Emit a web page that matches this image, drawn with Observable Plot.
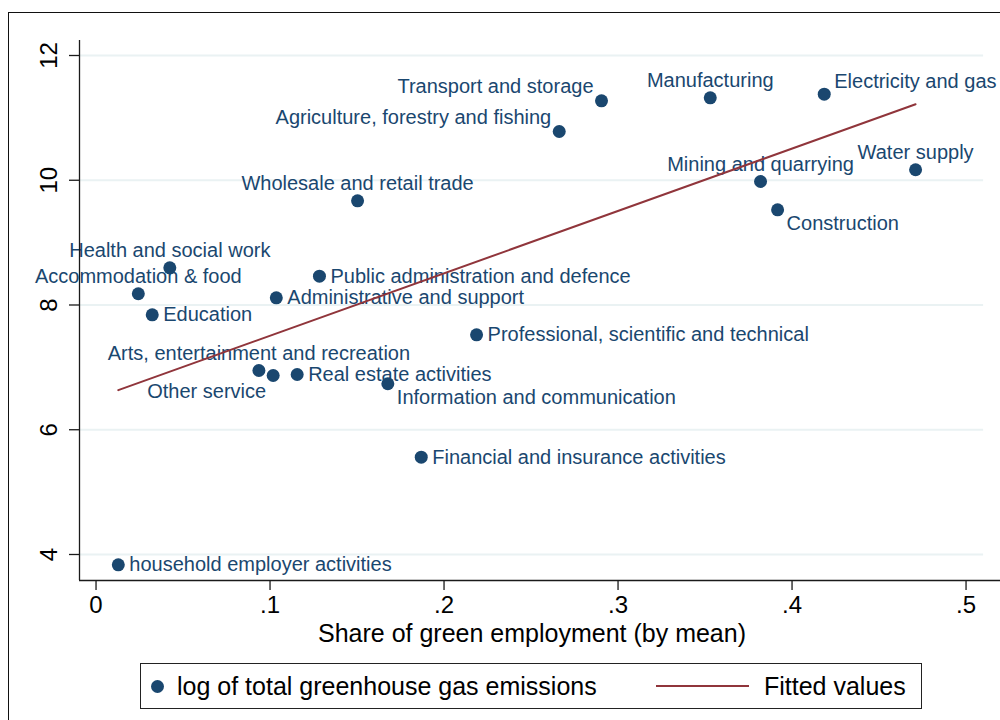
<!DOCTYPE html>
<html>
<head>
<meta charset="utf-8">
<script src="https://cdn.jsdelivr.net/npm/d3@7"></script>
<script src="https://cdn.jsdelivr.net/npm/@observablehq/plot@0.6"></script>
<style>
  html, body { margin: 0; padding: 0; background: #fff; overflow: hidden; }
  body { font-family: "Liberation Sans", Arial, sans-serif; }
  #page { position: relative; width: 1000px; height: 720px; overflow: hidden; }
  #outer { position: absolute; left: 8px; top: 12px; width: 1200px; height: 900px;
           border-left: 1.5px solid #111; border-top: 1.5px solid #111; pointer-events: none; }
  #chart svg { display: block; }
  #legend { position: relative; margin-left: 140px; margin-top: 13px; width: 782px; height: 46px;
            box-sizing: border-box; border: 1px solid #222; font-size: 25px; color: #000; }
  #legend .dot { position: absolute; left: 10px; top: 16px; width: 13px; height: 13px;
                 border-radius: 50%; background: #1a476f; }
  #legend .line { position: absolute; left: 515px; top: 21px; width: 93px; height: 2px; background: #90353b; }
  #legend .txt { position: absolute; top: 0; line-height: 44px; white-space: nowrap; }
</style>
</head>
<body>
<div id="page">
  <div id="chart"></div>
  <div id="legend">
    <span class="dot"></span>
    <span class="txt" style="left:36px">log of total greenhouse gas emissions</span>
    <span class="line"></span>
    <span class="txt" style="left:623px">Fitted values</span>
  </div>
  <div id="outer"></div>
</div>
<script>
// Industry sectors: share of green employment vs. log of total GHG emissions
const sectors = [
  "household employer activities",
  "Accommodation & food",
  "Health and social work",
  "Education",
  "Wholesale and retail trade",
  "Public administration and defence",
  "Administrative and support",
  "Arts, entertainment and recreation",
  "Other service",
  "Real estate activities",
  "Information and communication",
  "Professional, scientific and technical",
  "Financial and insurance activities",
  "Transport and storage",
  "Agriculture, forestry and fishing",
  "Manufacturing",
  "Electricity and gas",
  "Mining and quarrying",
  "Construction",
  "Water supply"
];
const greenShare = [
  0.0128, 0.0243, 0.0424, 0.0323, 0.1503, 0.1284, 0.1036, 0.0936, 0.1018, 0.1156,
  0.1677, 0.2187, 0.1869, 0.2905, 0.2662, 0.3530, 0.4185, 0.3819, 0.3917, 0.4710
];
const logEmissions = [
  3.835, 8.180, 8.596, 7.843, 9.670, 8.462, 8.115, 6.950, 6.870, 6.886,
  6.737, 7.522, 5.560, 11.274, 10.782, 11.322, 11.380, 9.980, 9.526, 10.168
];
// marker-label position, as a clock face direction around each point
const labelClock = [3, 12, 12, 3, 12, 3, 3, 12, 7, 3, 5, 3, 3, 11, 11, 12, 1, 12, 5, 12];

const xTicks = [0, 0.1, 0.2, 0.3, 0.4, 0.5];
const yTicks = [4, 6, 8, 10, 12];
const xTitle = "Share of green employment (by mean)";

const navy = "#1a476f";
const maroon = "#90353b";
const gridColor = "#eaf2f3";
const axisColor = "#1a1a1a";

const xDomain = [-0.0095, 0.5198];
const yDomain = [3.583, 12.2405];
const gridEnd = 0.5101;

const rows = sectors.map((name, i) => ({
  name, share: greenShare[i], ghg: logEmissions[i], clock: labelClock[i]
}));

const placements = {
  12: {dx: 0, dy: -17, textAnchor: "middle"},
  3:  {dx: 11, dy: 0, textAnchor: "start"},
  11: {dx: -8, dy: -14, textAnchor: "end"},
  1:  {dx: 10, dy: -13, textAnchor: "start"},
  5:  {dx: 9, dy: 14, textAnchor: "start"},
  7:  {dx: -7, dy: 16, textAnchor: "end"}
};

const labelMarks = Object.entries(placements).map(([clock, o]) =>
  Plot.text(rows.filter(d => d.clock === +clock), {
    x: "share", y: "ghg", text: "name",
    dx: o.dx, dy: o.dy, textAnchor: o.textAnchor, lineAnchor: "middle",
    fill: navy, fontSize: 20
  })
);

const fmtX = d => d === 0 ? "0" : d3.format(".1f")(d).replace(/^0/, "");

const chart = Plot.plot({
  width: 1000,
  height: 650,
  marginLeft: 79,
  marginRight: 0,
  marginTop: 40,
  marginBottom: 70,
  style: {fontFamily: '"Liberation Sans", Arial, sans-serif', background: "#fff", color: "#000", overflow: "visible"},
  x: {domain: xDomain, axis: null},
  y: {domain: yDomain, axis: null},
  marks: [
    Plot.ruleY(yTicks, {x1: xDomain[0], x2: gridEnd, stroke: gridColor, strokeWidth: 1.8}),
    Plot.dot(rows, {x: "share", y: "ghg", r: 6.5, fill: navy, stroke: null}),
    ...labelMarks,
    Plot.linearRegressionY(rows, {x: "share", y: "ghg", stroke: maroon, strokeWidth: 2, ci: 0}),
    Plot.ruleX([xDomain[0]], {stroke: axisColor, strokeWidth: 1.3}),
    Plot.ruleY([yDomain[0]], {stroke: axisColor, strokeWidth: 1.3}),
    Plot.axisY({ticks: yTicks, tickSize: 10, tickPadding: 13, tickRotate: -90, fontSize: 24,
                stroke: axisColor, strokeWidth: 1.3, label: null, tickFormat: d => String(d)}),
    Plot.axisX({ticks: xTicks, tickSize: 10, tickPadding: 5, fontSize: 24,
                stroke: axisColor, strokeWidth: 1.3, label: null, tickFormat: fmtX}),
    Plot.text([xTitle], {frameAnchor: "bottom", dx: -8, dy: 53, lineAnchor: "middle", fontSize: 25, fill: "#000"})
  ]
});

document.getElementById("chart").appendChild(chart);
</script>
</body>
</html>
